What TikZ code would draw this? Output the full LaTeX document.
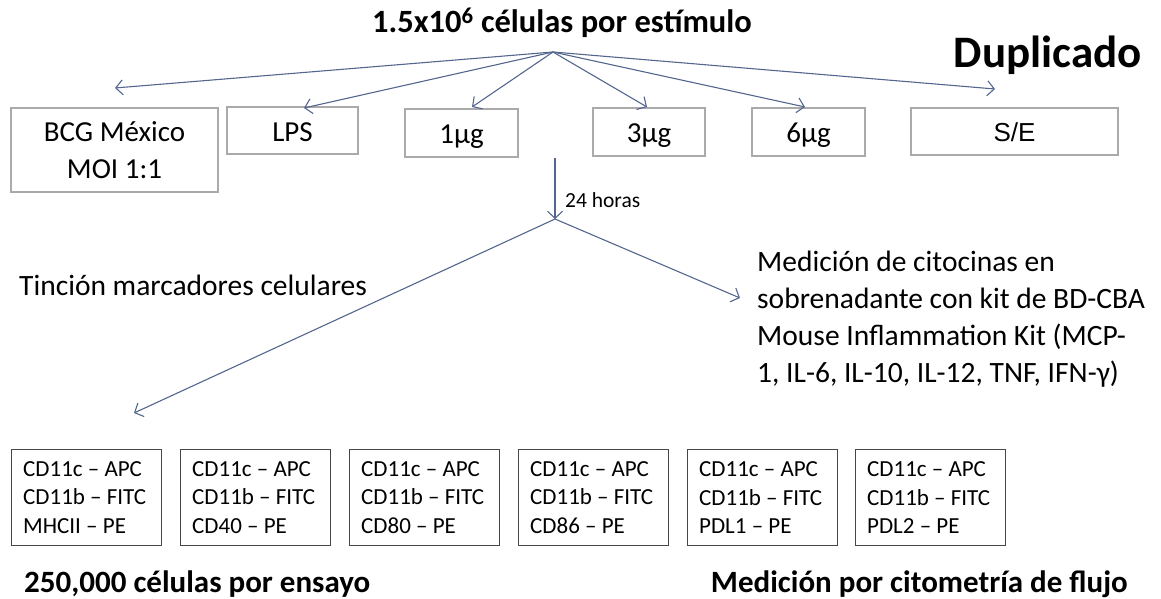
\documentclass[tikz,border=0pt]{standalone}
\usepackage{fontspec}
\setmainfont{Carlito}
\newfontfamily\arialf{Liberation Sans}
\usetikzlibrary{arrows.meta}
\definecolor{arr}{RGB}{84,102,142}
\definecolor{topbox}{RGB}{170,170,170}
\definecolor{lowbox}{RGB}{70,70,70}
\begin{document}
\begin{tikzpicture}[x=1pt,y=-1pt,
  conn/.style={draw=arr, line width=1.1pt, -{Straight Barb[length=7pt,width=15pt,line width=1.1pt]}},
  tbox/.style={draw=topbox, line width=1.3pt, inner sep=0pt, align=center, font=\fontsize{29}{37}\selectfont},
  onebox/.style={tbox, text height=24pt, text depth=2.5pt},
  lbox/.style={draw=lowbox, line width=1.2pt, inner sep=0pt, minimum width=150pt, minimum height=96pt},
  ltext/.style={inner sep=0pt, align=left, anchor=west, font=\fontsize{23}{28.5}\selectfont},
  btext/.style={inner sep=0pt, font=\fontsize{31}{36}\selectfont\bfseries},
  ntext/.style={inner sep=0pt, align=left, font=\fontsize{29.5}{36.8}\selectfont}]
\useasboundingbox (0,0) rectangle (1161,599);

% title texts
\node[inner sep=0pt, anchor=base, font=\fontsize{32.5}{38}\selectfont\bfseries] (title) at (562,33) {1.5x10\textsuperscript{6} células por estímulo};
\node[inner sep=0pt, anchor=base east, font=\fontsize{45}{50}\selectfont\bfseries] (dup) at (1142,68) {Duplicado};

% top boxes
\node[tbox, minimum width=207pt, minimum height=84pt] (bcg) at (114.5,150) {BCG México\\MOI 1:1};
\node[onebox, minimum width=131pt, minimum height=47pt] (lps) at (292.5,130.5) {LPS};
\node[onebox, minimum width=113pt, minimum height=48pt] (u1) at (461.5,133) {1µg};
\node[onebox, minimum width=112pt, minimum height=48pt] (u3) at (649,132) {3µg};
\node[onebox, minimum width=113pt, minimum height=48pt] (u6) at (808.5,132) {6µg};
\node[onebox, minimum width=207pt, minimum height=47pt, font=\fontsize{26}{32}\selectfont\arialf, text height=21pt, text depth=1pt] (se) at (1014.5,131.5) {S/E};

% fan-out arrows
\coordinate (src) at (553,52);
\coordinate (tbcg) at (115,88);
\coordinate (tlps) at (304,108);
\coordinate (tu1) at (472,107);
\coordinate (tu3) at (647,107);
\coordinate (tu6) at (805,107);
\coordinate (tse) at (995,89);
\foreach \t in {tbcg,tlps,tu1,tu3,tu6,tse} \draw[conn] (src) -- (\t);

% 24 h arrow
\coordinate (vstart) at (555,158);
\coordinate (split) at (555,219);
\draw[conn] (vstart) -- (split);
\node[anchor=west, inner sep=0pt, font=\fontsize{21.5}{26}\selectfont] (h24) at (565,200) {24 horas};

% split arrows
\coordinate (tleft) at (134,413);
\coordinate (tright) at (740,298);
\draw[conn] (split) -- (tleft);
\draw[conn] (split) -- (tright);

% middle texts
\node[ntext, anchor=west] (tincion) at (19,285) {Tinción marcadores celulares};
\node[ntext, anchor=north west] (citoc) at (757,251) {Medición de citocinas en\\sobrenadante con kit de BD-CBA\\Mouse Inflammation Kit (MCP-\\1, IL-6, IL-10, IL-12, TNF, IFN-γ)};

% lower boxes
\foreach \i/\x/\m in {1/11/MHCII,2/180/CD40,3/349/CD80,4/518/CD86,5/687/PDL1,6/855/PDL2}{
  \node[lbox, anchor=north west] (m\i) at (\x,449) {};
  \node[ltext] (mt\i) at ([xshift=12pt]m\i.west) {CD11c – APC\\CD11b – FITC\\\m{} – PE};
}

% bottom texts
\node[btext, anchor=base west] (cel) at (24,592) {250,000 células por ensayo};
\node[btext, anchor=base east] (flujo) at (1128,592) {Medición por citometría de flujo};
\end{tikzpicture}
\end{document}
